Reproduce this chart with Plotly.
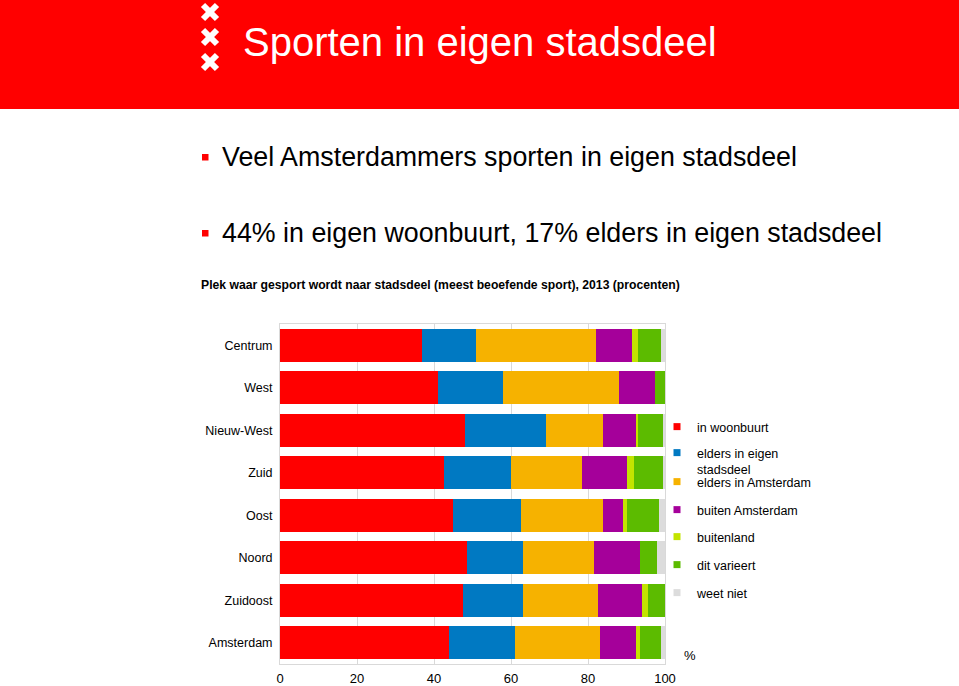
import plotly.graph_objects as go

# ---------------- data ----------------
districts = ["Centrum", "West", "Nieuw-West", "Zuid", "Oost", "Noord", "Zuidoost", "Amsterdam"]
in_woonbuurt        = [37.0, 41.0, 48.0, 42.5, 45.0, 48.5, 47.5, 44.0]
elders_stadsdeel    = [14.0, 17.0, 21.0, 17.5, 17.5, 14.5, 15.5, 17.0]
elders_amsterdam    = [31.0, 30.0, 15.0, 18.5, 21.5, 18.5, 19.5, 22.0]
buiten_amsterdam    = [9.5, 9.5, 8.5, 11.5, 5.0, 12.0, 11.5, 9.5]
buitenland          = [1.5, 0.0, 0.5, 2.0, 1.0, 0.0, 1.5, 1.0]
dit_varieert        = [6.0, 2.5, 6.5, 7.5, 8.5, 4.5, 4.5, 5.5]
weet_niet           = [1.0, 0.0, 0.5, 0.5, 1.5, 2.0, 0.0, 1.0]

series_names = ["in woonbuurt", "elders in eigen<br>stadsdeel", "elders in Amsterdam",
                "buiten Amsterdam", "buitenland", "dit varieert", "weet niet"]
series_values = [in_woonbuurt, elders_stadsdeel, elders_amsterdam, buiten_amsterdam,
                 buitenland, dit_varieert, weet_niet]
series_colors = ["#FF0000", "#0079C2", "#F6B200", "#A5009A", "#C3E400", "#5CBB00", "#DCDCDC"]

x_ticks = [0, 20, 40, 60, 80, 100]

# ---------------- geometry helpers ----------------
W, H = 959, 686
L, R, T, B = 280, 294, 324, 22
PW, PH = W - L - R, H - T - B

def px(xp):
    return (xp - L) / PW

def py(yp):
    return (H - B - yp) / PH

FONT = "Liberation Sans, Arial, Helvetica, sans-serif"

fig = go.Figure()

for name, vals, col in zip(series_names, series_values, series_colors):
    fig.add_trace(go.Bar(
        y=districts, x=vals, orientation="h", name=name.replace("<br>", " "),
        marker=dict(color=col, line=dict(width=0)), showlegend=False,
        hovertemplate="%{y}: %{x}%<extra>" + name.replace("<br>", " ") + "</extra>"))

# legend entries (one legend per entry for exact placement)
legend_y = [427, 461, 482, 510, 537, 565, 593]
legend_layout = {}
for i, (name, col, ly) in enumerate(zip(series_names, series_colors, legend_y)):
    key = "legend" if i == 0 else f"legend{i+1}"
    fig.add_trace(go.Scatter(
        x=[None], y=[None], mode="markers", name=name,
        marker=dict(symbol="square", size=7, color=col),
        showlegend=True, legend=key))
    legend_layout[key] = dict(
        x=px(657), y=py(ly), xanchor="left", yanchor="middle",
        bgcolor="rgba(0,0,0,0)", borderwidth=0,
        font=dict(family=FONT, size=12.5, color="#000"),
        valign="top", itemclick=False, itemdoubleclick=False)

shapes = []
# red header banner
shapes.append(dict(type="rect", xref="paper", yref="paper",
                   x0=px(0), x1=px(W), y0=py(109), y1=py(0),
                   fillcolor="#FF0000", line=dict(width=0), layer="below"))
# Amsterdam crosses
for cy in [12, 37, 62]:
    for (xa, ya, xb, yb) in [(203, cy - 7, 217, cy + 7), (203, cy + 7, 217, cy - 7)]:
        shapes.append(dict(type="line", xref="paper", yref="paper",
                           x0=px(xa), y0=py(ya), x1=px(xb), y1=py(yb),
                           line=dict(color="white", width=6)))
# bullets
for cy in [157, 233]:
    shapes.append(dict(type="rect", xref="paper", yref="paper",
                       x0=px(202), x1=px(208.5), y0=py(cy + 3.5), y1=py(cy - 3),
                       fillcolor="#FF0000", line=dict(width=0)))

annotations = [
    dict(text="Sporten in eigen stadsdeel", x=px(241), y=py(42), xref="paper", yref="paper",
         xanchor="left", yanchor="middle", showarrow=False,
         font=dict(family=FONT, size=40, color="white")),
    dict(text="Veel Amsterdammers sporten in eigen stadsdeel", x=px(220), y=py(157),
         xref="paper", yref="paper", xanchor="left", yanchor="middle", showarrow=False,
         font=dict(family=FONT, size=26.8, color="#000")),
    dict(text="44% in eigen woonbuurt, 17% elders in eigen stadsdeel", x=px(220), y=py(233),
         xref="paper", yref="paper", xanchor="left", yanchor="middle", showarrow=False,
         font=dict(family=FONT, size=26.8, color="#000")),
    dict(text="<b>Plek waar gesport wordt naar stadsdeel (meest beoefende sport), 2013 (procenten)</b>",
         x=px(199), y=py(285), xref="paper", yref="paper", xanchor="left", yanchor="middle",
         showarrow=False, font=dict(family=FONT, size=12.2, color="#000")),
    dict(text="%", x=px(682), y=py(655), xref="paper", yref="paper", xanchor="left",
         yanchor="middle", showarrow=False, font=dict(family=FONT, size=13, color="#000")),
]

fig.update_layout(
    width=W, height=H, autosize=False,
    margin=dict(l=L, r=R, t=T, b=B, pad=0, autoexpand=False),
    paper_bgcolor="white", plot_bgcolor="white",
    barmode="stack", bargap=0.234,
    font=dict(family=FONT, color="#000"),
    shapes=shapes, annotations=annotations,
    xaxis=dict(range=[0, 100], tickvals=x_ticks, ticktext=[str(v) for v in x_ticks],
               showgrid=True, gridcolor="#D9D9D9", gridwidth=1, zeroline=False,
               showline=True, linecolor="#D9D9D9", mirror=True, automargin=False,
               ticklabelstandoff=2,
               tickfont=dict(family=FONT, size=13, color="#000"), fixedrange=True),
    yaxis=dict(categoryorder="array", categoryarray=districts, autorange="reversed",
               showgrid=False, zeroline=False, showline=True, linecolor="#D9D9D9", mirror=True,
               automargin=False,
               tickfont=dict(family=FONT, size=12.5, color="#000"), ticklabelstandoff=4,
               fixedrange=True),
    **legend_layout,
)

fig.write_html("out.html", config={"displayModeBar": False},
               post_script="document.body.style.margin='0';")
